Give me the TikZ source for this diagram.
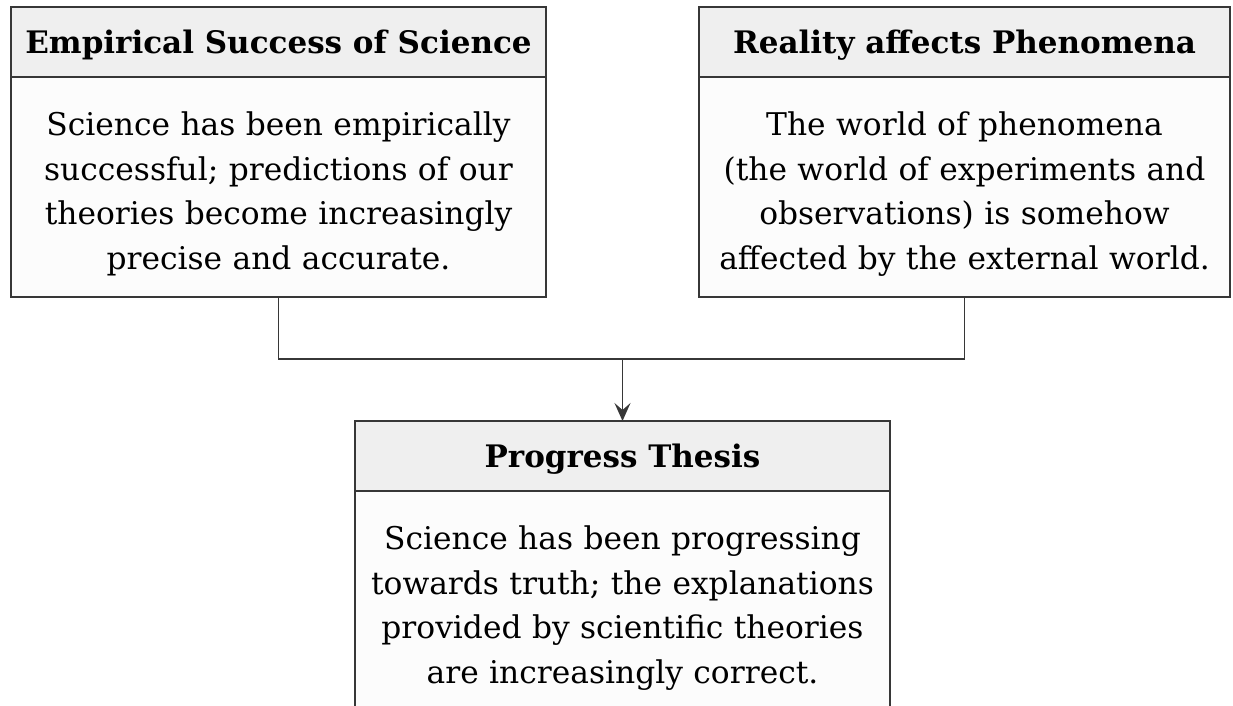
\documentclass[tikz,border=0pt]{standalone}
\usepackage{fontspec}
\setmainfont{DejaVu Serif}
\usepackage{tikz}
\usetikzlibrary{arrows.meta,positioning}
\definecolor{headgray}{RGB}{239,239,239}
\definecolor{bodywhite}{RGB}{252,252,252}
\definecolor{framegray}{RGB}{55,55,55}

\begin{document}
\begin{tikzpicture}[
    x=1pt, y=-1pt,
    head/.style={draw=framegray, line width=1.6pt, fill=headgray, inner sep=0pt, outer sep=0pt,
      minimum width=#1, minimum height=70pt, text height=22.5pt, text depth=0pt,
      font=\fontsize{31}{36}\selectfont\bfseries},
    body/.style={draw=framegray, line width=1.6pt, fill=bodywhite, inner sep=0pt, outer sep=0pt,
      minimum width=#1, minimum height=220pt, text width=520pt, align=center, text height=38pt,
      font=\fontsize{31.3}{44.5}\selectfont},
    link/.style={draw=framegray, line width=1.2pt},
  ]
  \useasboundingbox (0,0) rectangle (1233,706);
  \clip (0,0) rectangle (1233,706);

  % the two premises
  \node[head=535pt, anchor=north west] (emphead) at (11,7) {Empirical Success of Science};
  \node[body=535pt, below=0pt of emphead] (empbody) {Science has been empirically\\
    successful; predictions of our\\ theories become increasingly\\ precise and accurate.};

  \node[head=531pt, anchor=north west] (realhead) at (699,7) {Reality affects Phenomena};
  \node[body=531pt, below=0pt of realhead] (realbody) {The world of phenomena\\
    (the world of experiments and\\ observations) is somehow\\ affected by the external world.};

  % the conclusion
  \node[head=535pt, anchor=north west] (proghead) at (355,421) {Progress Thesis};
  \node[body=535pt, below=0pt of proghead] (progbody) {Science has been progressing\\
    towards truth; the explanations\\ provided by scientific theories\\ are increasingly correct.};

  \coordinate (bus) at (0,359);
  \draw[link] (empbody.south) -- (empbody.south |- bus) -- (realbody.south |- bus) -- (realbody.south);
  \draw[link, -{Stealth[length=18pt, width=16pt, inset=7pt]}] (proghead.north |- bus) -- (proghead.north);
\end{tikzpicture}
\end{document}
